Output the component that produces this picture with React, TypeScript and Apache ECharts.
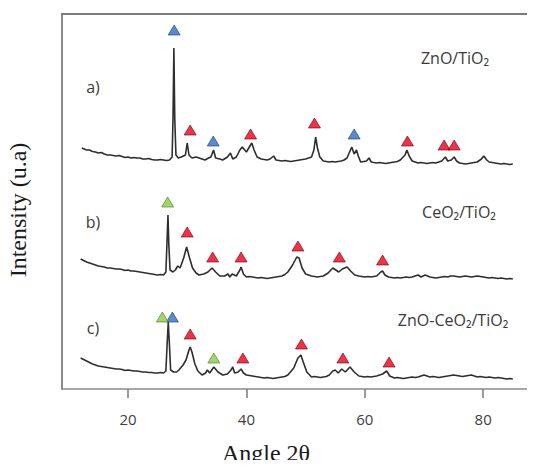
import React, { useEffect, useRef } from "react";
import * as echarts from "echarts";

// 2θ (degrees), intensity (a.u., offset stacked traces)
const tickLabels = [20, 40, 60, 80];

const seriesA: [number, number][] = [
  [12.2, 241], [13, 239], [13.5, 239], [14, 237.5], [14.5, 237], [15, 236], [15.5, 236.5], [16, 235], [16.5, 234], [17, 234],
  [17.5, 233.5], [18, 233], [18.5, 233.5], [19, 232.5], [19.5, 231.5], [20, 232], [20.5, 231], [21, 231.5], [21.5, 231], [22, 231],
  [22.5, 230], [23, 230], [23.5, 230.5], [24, 229.5], [24.5, 229], [25, 229], [25.5, 229.5], [26, 229], [26.5, 228.5], [27, 229],
  [27.45, 232], [27.6, 270], [27.75, 341], [27.9, 270], [28.1, 234], [28.5, 231], [29, 232], [29.7, 234], [30.0, 246], [30.3, 234],
  [30.8, 231], [31.5, 232], [32, 231], [32.5, 230], [33, 229], [33.6, 231], [34.0, 232], [34.45, 239], [34.8, 231], [35.5, 230],
  [36, 229], [36.8, 232], [37.3, 236], [37.7, 230], [38.3, 232], [38.9, 239], [39.3, 242], [40.0, 237], [40.9, 246], [41.3, 239],
  [41.8, 232], [42.5, 230], [43, 229.5], [43.5, 229], [44, 230], [44.6, 233], [45, 229], [45.5, 228.5], [46, 228], [46.5, 228.5],
  [47, 228], [47.5, 227.5], [48, 228], [48.5, 228.5], [49, 229], [49.5, 229.5], [50, 230], [50.5, 231], [51, 232], [51.4, 239],
  [51.7, 252], [52.0, 241], [52.4, 232], [53, 228], [53.5, 227.5], [54, 227], [54.5, 227.5], [55, 227], [55.5, 227.5], [56, 228],
  [56.5, 229], [57, 231], [57.5, 238], [57.8, 242], [58.2, 235], [58.6, 239], [58.9, 233], [59.3, 227], [59.8, 227.5], [60.3, 228],
  [60.7, 231], [61.1, 227], [61.5, 226.5], [62, 226], [62.5, 226.5], [63, 226], [63.5, 225.5], [64, 226], [64.5, 226.5], [65, 227],
  [65.5, 227.5], [66, 229], [66.8, 234], [67.1, 239], [67.5, 233], [68, 228], [68.5, 227], [69, 226], [69.5, 226.5], [70, 226],
  [70.5, 225.5], [71, 226], [71.5, 226.5], [72, 226], [72.5, 227], [73, 228], [73.6, 232], [74.0, 228], [74.6, 229], [75.1, 232],
  [75.5, 228], [76, 226], [76.5, 225.5], [77, 225], [77.5, 225.5], [78, 226], [78.5, 226.5], [79, 227], [79.7, 230], [80.1, 233],
  [80.6, 229], [81, 227], [81.5, 226.5], [82, 226], [82.5, 225.5], [83, 225], [83.5, 225.5], [84, 225], [84.5, 224.5], [85, 225],
];

const seriesB: [number, number][] = [
  [12.0, 130], [12.5, 128.5], [13, 127], [13.5, 126], [14, 125], [14.5, 124], [15, 123], [15.5, 122.5], [16, 122], [16.5, 121],
  [17, 121], [17.5, 120.5], [18, 120], [18.5, 120], [19, 119.5], [19.5, 118.5], [20, 119], [20.5, 118], [21, 118], [21.5, 117.5],
  [22, 117], [22.5, 116.5], [23, 116], [23.5, 115.5], [24, 115], [24.5, 114.5], [25, 114], [25.5, 114.5], [26, 114], [26.4, 117],
  [26.6, 149], [26.75, 174], [26.9, 144], [27.1, 119], [27.6, 117], [28.0, 119], [28.4, 123], [28.8, 121], [29.4, 131], [29.9, 142],
  [30.4, 131], [30.9, 121], [31.5, 116], [32, 114], [32.8, 115], [33.5, 117], [34.2, 121], [34.8, 117], [35.5, 113], [36.3, 113],
  [36.9, 115], [37.2, 112], [37.6, 115], [38.3, 113], [38.9, 119], [39.1, 122], [39.5, 115], [40, 112], [40.5, 112.5], [41, 112],
  [41.5, 111.5], [42, 111], [42.5, 111.5], [43, 111], [43.5, 110.5], [44, 111], [44.5, 111.5], [45, 112], [45.5, 112.5], [46, 113],
  [46.5, 114.5], [47, 117], [47.8, 124], [48.5, 132], [48.9, 131], [49.4, 121], [50, 115], [50.5, 114], [51, 113], [51.5, 112.5],
  [52, 112], [52.5, 112.5], [53, 113], [53.8, 116], [54.6, 121], [55.1, 119], [55.6, 117], [56.2, 120], [57.0, 122], [57.6, 118],
  [58.3, 114], [59, 113], [59.5, 112.5], [60, 112], [60.5, 112.5], [61, 112], [61.5, 112.5], [62, 113], [62.7, 117], [63.0, 118],
  [63.4, 114], [64, 112], [64.5, 111.5], [65, 111], [65.5, 111.5], [66, 111], [66.5, 111.5], [67, 112], [67.5, 111.5], [68, 112],
  [68.5, 113], [69, 114], [69.5, 112], [70.2, 114], [70.6, 113], [71, 112], [71.5, 111.5], [72, 111], [72.5, 111.5], [73, 112],
  [73.5, 112.5], [74, 112], [74.5, 113], [75, 113], [75.5, 112.5], [76, 112], [76.5, 112.5], [77, 113], [77.5, 112.5], [78, 112],
  [78.5, 112.5], [79, 113], [79.5, 112.5], [80, 112], [80.5, 111.5], [81, 111], [81.5, 111.5], [82, 111], [82.5, 110.5], [83, 111],
  [83.5, 110.5], [84, 110], [84.5, 110.5], [85, 110],
];

const seriesC: [number, number][] = [
  [12.0, 31], [12.5, 29.5], [13, 28], [13.5, 26.5], [14, 25], [14.5, 24], [15, 23], [15.5, 22.5], [16, 22], [16.5, 21.5],
  [17, 21], [17.5, 20.5], [18, 20], [18.5, 20], [19, 19.5], [19.5, 18.5], [20, 19], [20.5, 18.5], [21, 18], [21.5, 18],
  [22, 17.5], [22.5, 17], [23, 17], [23.5, 16.5], [24, 16.5], [24.5, 16], [25, 16], [25.5, 16.5], [26, 16], [26.4, 18],
  [26.6, 44], [26.8, 67], [27.0, 44], [27.2, 19], [27.7, 17], [28.2, 17], [28.6, 19], [29.3, 24], [29.8, 29], [30.3, 39],
  [30.5, 42], [30.8, 37], [31.3, 25], [31.8, 18], [32.5, 14], [33.1, 16], [33.4, 19], [33.8, 16], [34.5, 22], [35.2, 17],
  [36, 14], [36.8, 15], [37.4, 19], [37.7, 22], [38.0, 16], [38.6, 17], [39.1, 20], [39.5, 16], [40, 14], [40.5, 13.5],
  [41, 13], [41.5, 12.5], [42, 12], [42.5, 11.5], [43, 11], [43.5, 11.5], [44, 11], [44.5, 10.5], [45, 11], [45.5, 11.5],
  [46, 12], [46.5, 12.5], [47, 14], [48.0, 21], [48.7, 31], [49.2, 34], [49.6, 27], [50.2, 17], [51, 12], [51.5, 12.5],
  [52, 12], [52.5, 11.5], [53, 12], [53.5, 12.5], [54, 14], [54.6, 18], [55.0, 19], [55.5, 16], [56.1, 20], [56.7, 17],
  [57.5, 22], [58.2, 17], [59, 13], [59.5, 12.5], [60, 12], [60.5, 12.5], [61, 12], [61.5, 12.5], [62, 13], [63, 15],
  [63.7, 18], [64.2, 13], [65, 11], [65.5, 11.5], [66, 11], [66.5, 10.5], [67, 11], [67.5, 11.5], [68, 12], [68.5, 11.5],
  [69, 12], [69.5, 13], [70, 14], [70.5, 13], [71, 12], [71.5, 12.5], [72, 12], [72.5, 11.5], [73, 12], [73.5, 12.5],
  [74, 13], [74.5, 13.5], [75, 14], [75.5, 13.5], [76, 13], [76.5, 12.5], [77, 13], [77.5, 13.5], [78, 14], [78.5, 13],
  [79, 12], [79.5, 12.5], [80, 12], [80.5, 11.5], [81, 12], [81.5, 11.5], [82, 11], [82.5, 11.5], [83, 11], [83.5, 10.5],
  [84, 10], [84.5, 10.5], [85, 10],
];

// Phase markers (triangles): [2θ, height]
const redMarks: [number, number][] = [
  [30.5, 259], [40.7, 255], [51.5, 266], [67.2, 248], [73.4, 244], [75.1, 244],
  [30.0, 157], [34.3, 132], [39.1, 132], [48.7, 143], [55.7, 132], [63.0, 129],
  [30.5, 55], [39.4, 31], [49.3, 45], [56.3, 31], [64.1, 27],
];
const blueMarks: [number, number][] = [
  [27.8, 359], [34.4, 248], [58.2, 255],
  [27.5, 72],
];
const greenMarks: [number, number][] = [
  [26.7, 187],
  [25.8, 72], [34.5, 31],
];

const traceNames = ["a)", "b)", "c)"];
const sampleNames = ["ZnO/TiO₂", "CeO₂/TiO₂", "ZnO-CeO₂/TiO₂"];

export default function App() {
  const ref = useRef<HTMLDivElement>(null);
  useEffect(() => {
    if (!ref.current) return;
    const chart = echarts.init(ref.current, undefined, { renderer: "svg" });
    const lineStyle = { color: "#2e2e2e", width: 1.6 };
    const tri = (color: string, border: string) => ({
      type: "scatter",
      data: [] as [number, number][],
      symbol: "triangle",
      symbolSize: [12, 10],
      itemStyle: { color, borderColor: border, borderWidth: 0.8 },
      z: 5,
    });
    const red = { ...tri("#e8001c", "#7a0010"), data: redMarks };
    const blue = { ...tri("#2f6fba", "#1c3f6e"), data: blueMarks };
    const green = { ...tri("#8cc94a", "#4f7a24"), data: greenMarks };
    const labelFont = { fontFamily: "Open Sans", fontSize: 16, fill: "#3a3a3a" };
    const traceLabelPos = [
      [93, 87],
      [93, 222],
      [93, 328],
    ];
    const sampleLabelPos = [
      [455, 58],
      [459, 212],
      [453, 320],
    ];
    chart.setOption({
      animation: false,
      backgroundColor: "#ffffff",
      grid: { left: 62, right: 0, top: 14, bottom: 79, containLabel: false },
      xAxis: [
        {
          type: "value",
          min: 8.85,
          max: 88.75,
          position: "bottom",
          axisLine: { show: true, lineStyle: { color: "#8a8a8a", width: 1.5 } },
          axisTick: {
            show: true,
            inside: false,
            length: 9,
            customValues: tickLabels,
            lineStyle: { color: "#7a7a7a", width: 1.5 },
          },
          axisLabel: {
            show: true,
            customValues: tickLabels,
            color: "#404040",
            fontFamily: "Open Sans",
            fontSize: 15,
            margin: 22,
          },
          splitLine: { show: false },
        },
        {
          type: "value",
          min: 8.85,
          max: 88.75,
          position: "top",
          axisLine: { show: true, lineStyle: { color: "#7a7a7a", width: 2 } },
          axisTick: { show: false },
          axisLabel: { show: false },
          splitLine: { show: false },
        },
      ],
      yAxis: {
        type: "value",
        min: 0,
        max: 375,
        axisLine: { show: true, lineStyle: { color: "#8a8a8a", width: 2 } },
        axisTick: { show: false },
        axisLabel: { show: false },
        splitLine: { show: false },
      },
      series: [
        { type: "line", data: seriesA, symbol: "none", lineStyle, z: 3 },
        { type: "line", data: seriesB, symbol: "none", lineStyle, z: 3 },
        { type: "line", data: seriesC, symbol: "none", lineStyle, z: 3 },
        red,
        blue,
        green,
      ],
      graphic: [
        ...traceNames.map((t, i) => ({
          type: "text",
          x: traceLabelPos[i][0],
          y: traceLabelPos[i][1],
          style: { text: t, align: "center", verticalAlign: "middle", ...labelFont },
        })),
        ...sampleNames.map((t, i) => ({
          type: "text",
          x: sampleLabelPos[i][0],
          y: sampleLabelPos[i][1],
          style: { text: t, align: "center", verticalAlign: "middle", ...labelFont },
        })),
        {
          type: "text",
          x: 266,
          y: 453,
          style: {
            text: "Angle 2θ",
            align: "center",
            verticalAlign: "middle",
            fontFamily: "Liberation Serif",
            fontSize: 24,
            fill: "#1a1a1a",
          },
        },
        {
          type: "text",
          x: 18,
          y: 210,
          rotation: Math.PI / 2,
          style: {
            text: "Intensity (u.a)",
            align: "center",
            verticalAlign: "middle",
            fontFamily: "Liberation Serif",
            fontSize: 24,
            fill: "#1a1a1a",
          },
        },
      ],
    });
    return () => chart.dispose();
  }, []);
  return <div ref={ref} style={{ width: 535, height: 468, margin: -8 }} />;
}
